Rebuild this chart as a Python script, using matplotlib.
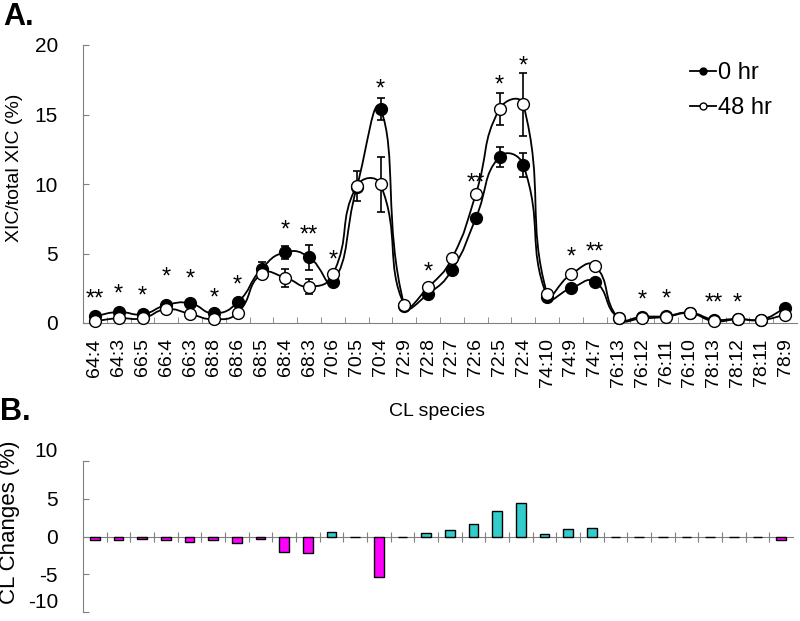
import numpy as np
import matplotlib
matplotlib.use("Agg")
import matplotlib.pyplot as plt
from matplotlib.path import Path
from matplotlib.patches import PathPatch
from matplotlib.lines import Line2D

plt.rcParams['font.family'] = ['Liberation Sans', 'DejaVu Sans']
plt.rcParams['axes.unicode_minus'] = False

# CL species (x categories)
species = ['64:4', '64:3', '66:5', '66:4', '66:3', '68:8', '68:6', '68:5', '68:4', '68:3',
           '70:6', '70:5', '70:4', '72:9', '72:8', '72:7', '72:6', '72:5', '72:4', '74:10',
           '74:9', '74:7', '76:13', '76:12', '76:11', '76:10', '78:13', '78:12', '78:11', '78:9']

# XIC/total XIC (%) at 0 hr (filled) and 48 hr (open)
hr0 = [0.50, 0.79, 0.63, 1.29, 1.42, 0.70, 1.49, 3.88, 5.09, 4.73,
       2.93, 9.75, 15.40, 1.25, 2.09, 3.81, 7.53, 11.96, 11.37, 1.89,
       2.50, 2.97, 0.35, 0.45, 0.50, 0.75, 0.25, 0.30, 0.25, 1.06]
hr48 = [0.14, 0.34, 0.34, 0.99, 0.65, 0.27, 0.74, 3.53, 3.26, 2.61,
        3.50, 9.86, 9.98, 1.29, 2.57, 4.65, 9.26, 15.40, 15.73, 2.09,
        3.50, 4.12, 0.34, 0.34, 0.45, 0.70, 0.14, 0.27, 0.22, 0.58]
err0 = [0, 0, 0, 0, 0, 0, 0, 0.50, 0.47, 0.90,
        0, 0, 0.80, 0, 0, 0, 0, 0.72, 0.86, 0,
        0, 0, 0, 0, 0, 0, 0, 0, 0, 0]
err48 = [0, 0, 0, 0, 0, 0, 0, 0, 0.66, 0.54,
         0, 1.08, 1.98, 0, 0, 0, 0, 1.16, 2.25, 0,
         0, 0, 0, 0, 0, 0, 0, 0, 0, 0]

# significance marks and their heights
stars = ['**', '*', '*', '*', '*', '*', '*', '', '*', '**',
         '*', '', '*', '', '*', '', '**', '*', '*', '',
         '*', '**', '', '*', '*', '', '**', '*', '', '']
star_y = [2.09, 2.45, 2.30, 3.67, 3.53, 2.16, 3.09, 0, 7.05, 6.69,
          4.89, 0, 17.19, 0, 4.03, 0, 10.43, 17.48, 18.85, 0,
          5.10, 5.47, 0, 2.01, 2.09, 0, 1.80, 1.80, 0, 0]

# CL changes (%) in panel B
changes = [-0.4, -0.5, -0.3, -0.4, -0.75, -0.5, -0.8, -0.3, -2.0, -2.2,
           0.6, -0.1, -5.4, -0.1, 0.45, 0.8, 1.65, 3.4, 4.4, 0.35,
           0.95, 1.15, -0.1, -0.1, -0.05, -0.05, -0.1, -0.1, -0.05, -0.45]

grey = '#808080'
x = np.arange(len(species))


def smooth_path(ax, xs, ys):
    # excel-like smoothed line, control points worked out in screen space
    pts = ax.transData.transform(np.column_stack([xs, ys]).astype(float))
    n = len(pts)
    verts = [pts[0]]
    codes = [Path.MOVETO]
    for i in range(n - 1):
        p0 = pts[max(i - 1, 0)]
        p1 = pts[i]
        p2 = pts[i + 1]
        p3 = pts[min(i + 2, n - 1)]
        d01 = np.hypot(*(p1 - p0))
        d12 = np.hypot(*(p2 - p1))
        d23 = np.hypot(*(p3 - p2))
        c1 = p1 + (p2 - p0) * d12 / (d01 + d12) / 2
        c2 = p2 - (p3 - p1) * d12 / (d12 + d23) / 2
        verts += [c1, c2, p2]
        codes += [Path.CURVE4] * 3
    verts = ax.transData.inverted().transform(np.array(verts))
    return Path(verts, codes)


fig = plt.figure(figsize=(8, 6.21), dpi=100)

# ---- panel A
ax = fig.add_axes([83 / 800, 1 - 323 / 621, 714 / 800, 278 / 621])
ax.set_xlim(-0.5, len(species) - 0.5)
ax.set_ylim(0, 20)
for ys in (hr0, hr48):
    ax.add_patch(PathPatch(smooth_path(ax, x, ys), fc='none', ec='black', lw=1.3, zorder=2))
ax.errorbar(x, hr0, yerr=err0, fmt='none', ecolor='black', elinewidth=1.2, capsize=3, capthick=1.2, zorder=3)
ax.errorbar(x, hr48, yerr=err48, fmt='none', ecolor='black', elinewidth=1.2, capsize=3, capthick=1.2, zorder=3)
ax.plot(x, hr0, 'o', ms=8.5, mfc='black', mec='black', mew=1, zorder=4, clip_on=False)
ax.plot(x, hr48, 'o', ms=8.5, mfc='white', mec='black', mew=1, zorder=5, clip_on=False)

for i in range(len(species)):
    if stars[i]:
        ax.annotate(stars[i], (x[i], star_y[i]), xytext=(0, -8.5), textcoords='offset points',
                    ha='center', va='baseline', fontsize=17)

ax.set_yticks([0, 5, 10, 15, 20])
ax.set_xticks(x)
ax.set_xticklabels(species, rotation=90, fontsize=14)
ax.set_xticks(np.arange(0.5, len(species) - 1, 1), minor=True)
ax.tick_params(axis='x', which='major', length=0, pad=11)
ax.tick_params(axis='x', which='minor', direction='in', length=4, color=grey)
ax.tick_params(axis='y', direction='in', length=4, color=grey, labelsize=15, pad=18)
for s in ('top', 'right'):
    ax.spines[s].set_visible(False)
for s in ('left', 'bottom'):
    ax.spines[s].set_color(grey)

ax.legend(handles=[Line2D([], [], color='black', lw=1.3, marker='o', ms=5, mfc='black', mec='black'),
                   Line2D([], [], color='black', lw=1.3, marker='o', ms=5, mfc='white', mec='black')],
          labels=['0 hr', '48 hr'], loc='upper left', bbox_to_anchor=(690 / 800, 1 - 62 / 621),
          bbox_transform=fig.transFigure, frameon=False, fontsize=17, handlelength=1.1,
          handletextpad=0.1, labelspacing=0.55, borderpad=0, borderaxespad=0)

# ---- panel B
bx = fig.add_axes([83 / 800, 1 - 612 / 621, 710 / 800, 151 / 621])
cols = ['#33CCCC' if v >= 0 else '#FF00FF' for v in changes]
bx.bar(x, changes, width=0.42, color=cols, edgecolor='black', linewidth=1, zorder=3)
bx.set_xlim(-0.5, len(species) - 0.5)
bx.set_ylim(-10, 10)
bx.set_yticks([-10, -5, 0, 5, 10])
bx.set_xticks(np.arange(0.5, len(species) - 1, 1))
bx.set_xticklabels([])
bx.spines['bottom'].set_position(('data', 0))
for s in ('top', 'right'):
    bx.spines[s].set_visible(False)
for s in ('left', 'bottom'):
    bx.spines[s].set_color(grey)
bx.tick_params(axis='x', direction='inout', length=7, color=grey)
bx.tick_params(axis='y', direction='in', length=4, color=grey, labelsize=15, pad=18)
ylabs = bx.get_yticklabels()
ylabs[0].set_va('bottom')
ylabs[-1].set_va('bottom')

# ---- labels
fig.text(15 / 800, 1 - 168 / 621, 'XIC/total XIC (%)', rotation=90, ha='center', va='center', fontsize=14)
fig.text(10 / 800, 1 - 522 / 621, 'CL Changes (%)', rotation=90, ha='center', va='center', fontsize=16)
fig.text(437 / 800, 1 - 412 / 621, 'CL species', ha='center', va='center', fontsize=14)
fig.text(3 / 800, 1 - 25 / 621, 'A.', fontsize=22, fontweight='bold', ha='left', va='baseline')
fig.text(0 / 800, 1 - 420 / 621, 'B.', fontsize=22, fontweight='bold', ha='left', va='baseline')

fig.savefig('out.png', dpi=100)
